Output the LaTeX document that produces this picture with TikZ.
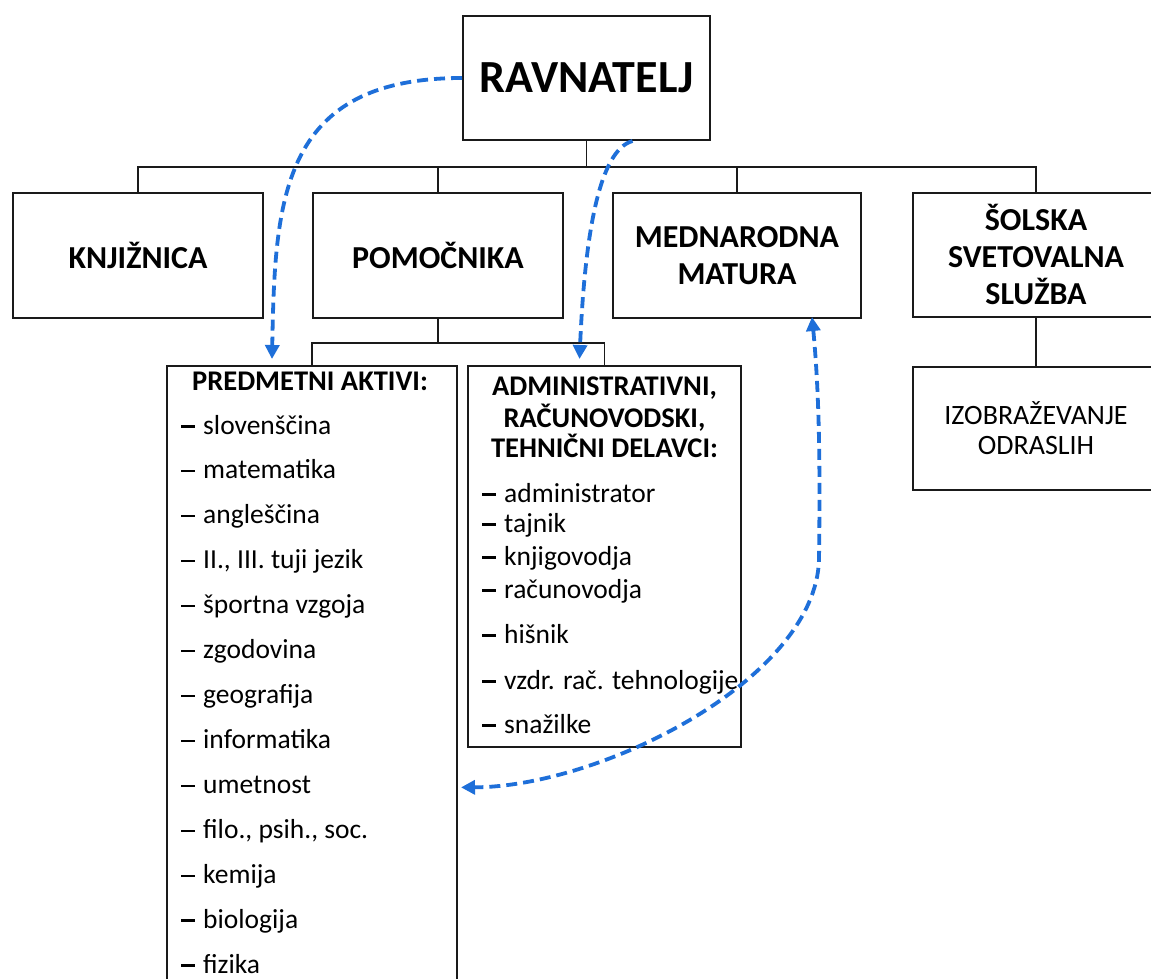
\documentclass[tikz,border=0pt]{standalone}
\usepackage{fontspec}
\setmainfont{Carlito}
\usepackage{xcolor}
\definecolor{linkblue}{HTML}{1E6FD9}
\definecolor{boxline}{HTML}{1A1A1A}
\usetikzlibrary{arrows.meta, positioning}
\tikzset{
  orgbox/.style={
    rectangle, draw=boxline, line width=2pt, fill=white, align=center,
    inner sep=0pt, font=\bfseries\fontsize{32}{37}\selectfont
  },
  topbox/.style={orgbox, font=\bfseries\fontsize{46}{52}\selectfont},
  plainbox/.style={orgbox, font=\fontsize{28}{30}\selectfont},
  listbox/.style={rectangle, draw=boxline, line width=2pt, fill=white, inner sep=0pt},
  listhead/.style={inner sep=0pt, font=\bfseries\fontsize{28.5}{30}\selectfont},
  listitem/.style={inner sep=0pt, anchor=base west, font=\fontsize{27.5}{30}\selectfont},
  orglink/.style={boxline, line width=1.8pt},
  dutyarrow/.style={
    linkblue, line width=3.8pt, dash pattern=on 11pt off 6pt,
    -{Triangle[length=14pt, width=14pt]}
  }
}
\newcommand{\dashitem}[1]{\makebox[22pt][l]{\rule[6.5pt]{14pt}{2.2pt}}#1}

\begin{document}
\begin{tikzpicture}[x=1pt, y=-1pt]
\clip (0,0) rectangle (1151,979);
\fill[white] (0,0) rectangle (1151,979);

% ── Top level ────────────────────────────────────────────────────────────────
\node[topbox, minimum width=247pt, minimum height=124pt] (ravn) at (586.5,78) {RAVNATELJ};

% ── Second level ─────────────────────────────────────────────────────────────
\node[orgbox, minimum width=250pt, minimum height=125pt] (knj) at (138,255.5) {KNJIŽNICA};
\node[orgbox, minimum width=250pt, minimum height=125pt] (pom) at (438,255.5) {POMOČNIKA};
\node[orgbox, minimum width=248pt, minimum height=125pt] (mm) at (737,255.5) {MEDNARODNA\\MATURA};
\node[orgbox, minimum width=246pt, minimum height=124pt] (sss) at (1036,254.5) {ŠOLSKA\\SVETOVALNA\\SLUŽBA};

\foreach \c in {knj,pom,mm,sss}
  \draw[orglink] (ravn.south) -- ++(0,26) -| (\c.north);

% ── Third level ──────────────────────────────────────────────────────────────
\node[listbox, minimum width=290pt, minimum height=644pt] (pa) at (312,688) {};
\node[listbox, minimum width=273pt, minimum height=381pt] (adm) at (604.5,556.5) {};
\node[plainbox, minimum width=246pt, minimum height=123pt] (izo) at (1036,428.5) {IZOBRAŽEVANJE\\ODRASLIH};

\foreach \c in {pa,adm}
  \draw[orglink] (pom.south) -- ++(0,24) -| (\c.north);
\draw[orglink] (sss.south) -- (izo.north);

% subject groups
\node[listhead, anchor=base] (pahead) at (310,390) {PREDMETNI AKTIVI:};
\foreach \t [count=\i] in {slovenščina, matematika, angleščina, {II., III. tuji jezik},
    športna vzgoja, zgodovina, geografija, informatika, umetnost,
    {filo., psih., soc.}, kemija, biologija, fizika}
  \node[listitem] (pa\i) at (181,{434+44.92*(\i-1)}) {\dashitem{\t}};

% staff
\foreach \t/\y [count=\i] in {{ADMINISTRATIVNI,}/395, {RAČUNOVODSKI,}/427, {TEHNIČNI DELAVCI:}/457}
  \node[listhead, anchor=base] (admhead\i) at (604.5,\y) {\t};
\foreach \t/\y [count=\i] in {administrator/502, tajnik/532, knjigovodja/565, računovodja/598,
    hišnik/643, vzdr. rač. tehnologije/689, snažilke/733}
  \node[listitem] (adm\i) at (482,\y) {\dashitem{\t}};

% ── Dashed relations ─────────────────────────────────────────────────────────
\draw[dutyarrow] (ravn.west) .. controls (280,78) and (275,200) .. ([xshift=-40pt, yshift=6pt]pa.north);
\draw[dutyarrow] ([xshift=46pt]ravn.south) .. controls (600,150) and (585,230) .. ([xshift=-25pt, yshift=6pt]adm.north);
\draw[dutyarrow, {Triangle[length=14pt, width=14pt]}-{Triangle[length=14pt, width=14pt]}]
  ([xshift=75pt, yshift=2pt]mm.south) .. controls (820,400) and (820,480) .. (819,560)
  .. controls (815,680) and (600,787) .. ([xshift=3pt, yshift=6pt]pa.east |- pa9.base);

\end{tikzpicture}
\end{document}
